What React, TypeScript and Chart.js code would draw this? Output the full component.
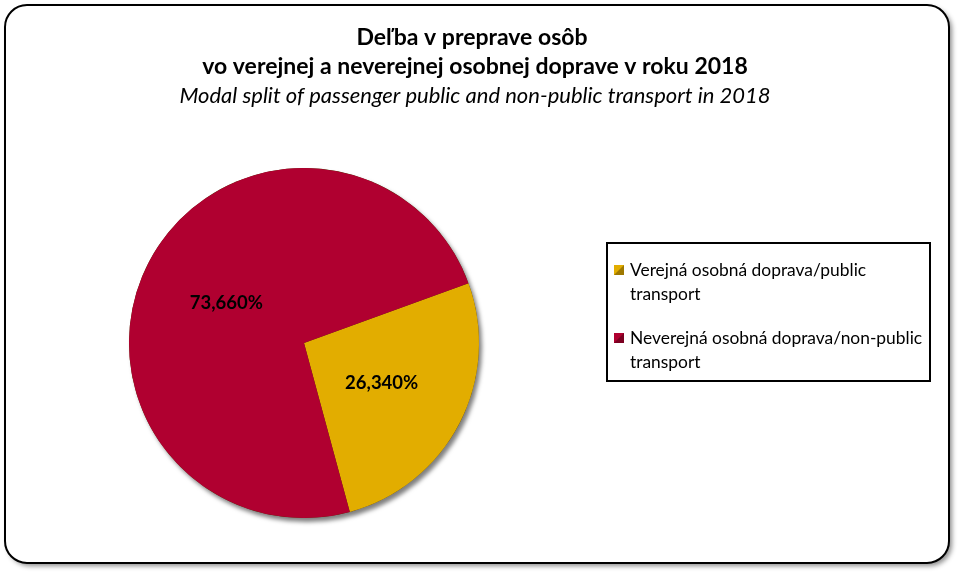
import React, { useEffect, useRef } from "react";
import { Chart, registerables } from "chart.js";

Chart.register(...registerables);

const categories = [
  "Verejná osobná doprava/public transport",
  "Neverejná osobná doprava/non-public transport",
];
const legendLines = [
  ["Verejná osobná doprava/public", "transport"],
  ["Neverejná osobná doprava/non-public", "transport"],
];
const shares = [26.34, 73.66];
const sliceColors = ["#E2AD00", "#B00030"];
const titleLines = [
  "Deľba v preprave osôb",
  "vo verejnej a neverejnej osobnej doprave v roku 2018",
];
const subtitle = "Modal split of passenger public and non-public transport in 2018";

const FONT = "Lato, 'Open Sans', sans-serif";

function fmt(v: number) {
  return v.toFixed(3).replace(".", ",") + "%";
}

function roundRect(ctx: CanvasRenderingContext2D, x: number, y: number, w: number, h: number, r: number) {
  ctx.beginPath();
  ctx.moveTo(x + r, y);
  ctx.lineTo(x + w - r, y);
  ctx.arcTo(x + w, y, x + w, y + r, r);
  ctx.lineTo(x + w, y + h - r);
  ctx.arcTo(x + w, y + h, x + w - r, y + h, r);
  ctx.lineTo(x + r, y + h);
  ctx.arcTo(x, y + h, x, y + h - r, r);
  ctx.lineTo(x, y + r);
  ctx.arcTo(x, y, x + r, y, r);
  ctx.closePath();
}

const decorPlugin = {
  id: "decor",
  beforeDraw(chart: any) {
    const ctx = chart.ctx as CanvasRenderingContext2D;
    ctx.save();
    ctx.fillStyle = "#ffffff";
    ctx.fillRect(0, 0, chart.width, chart.height);
    ctx.shadowColor = "rgba(0,0,0,0.45)";
    ctx.shadowBlur = 5;
    ctx.shadowOffsetX = 3;
    ctx.shadowOffsetY = 3;
    roundRect(ctx, 5, 5, 944, 558, 22);
    ctx.fillStyle = "#ffffff";
    ctx.fill();
    ctx.shadowColor = "transparent";
    ctx.lineWidth = 2;
    ctx.strokeStyle = "#000";
    ctx.stroke();

    // title
    ctx.fillStyle = "#000";
    ctx.textAlign = "center";
    ctx.textBaseline = "middle";
    ctx.font = `bold 23px ${FONT}`;
    ctx.fillText(titleLines[0], 472, 38);
    ctx.fillText(titleLines[1], 475, 67);
    ctx.font = `italic 22px ${FONT}`;
    ctx.fillText(subtitle, 475, 96);
    ctx.restore();
  },
  beforeDatasetsDraw(chart: any) {
    const meta = chart.getDatasetMeta(0);
    const arc = meta.data[0];
    if (!arc) return;
    const { x, y, outerRadius } = arc.getProps(["x", "y", "outerRadius"], true);
    const ctx = chart.ctx as CanvasRenderingContext2D;
    ctx.save();
    ctx.shadowColor = "rgba(0,0,0,0.5)";
    ctx.shadowBlur = 4;
    ctx.shadowOffsetX = 3;
    ctx.shadowOffsetY = 4;
    ctx.beginPath();
    ctx.arc(x, y, outerRadius, 0, Math.PI * 2);
    ctx.fillStyle = "#4a3600";
    ctx.fill();
    ctx.restore();
  },
  afterDatasetsDraw(chart: any) {
    const ctx = chart.ctx as CanvasRenderingContext2D;
    const meta = chart.getDatasetMeta(0);
    const values = chart.data.datasets[0].data as number[];
    ctx.save();
    ctx.fillStyle = "#000";
    ctx.font = `bold 18.5px ${FONT}`;
    ctx.textAlign = "center";
    ctx.textBaseline = "middle";
    meta.data.forEach((el: any, i: number) => {
      const p = el.getProps(["x", "y", "startAngle", "endAngle", "outerRadius"], true);
      const mid = (p.startAngle + p.endAngle) / 2;
      const r = p.outerRadius * 0.5;
      ctx.fillText(fmt(values[i]), p.x + Math.cos(mid) * r, p.y + Math.sin(mid) * r);
    });

    // legend
    const lx = 607, ly = 243, lw = 323, lh = 138;
    ctx.lineWidth = 2;
    ctx.strokeStyle = "#000";
    ctx.strokeRect(lx, ly, lw, lh);
    ctx.font = `17.4px ${FONT}`;
    ctx.textAlign = "left";
    const colors = chart.data.datasets[0].backgroundColor as string[];
    const rowY = [270, 338];
    legendLines.forEach((lines, i) => {
      const y0 = rowY[i];
      ctx.fillStyle = colors[i];
      ctx.fillRect(614, y0 - 5, 10, 10);
      ctx.fillStyle = "rgba(0,0,0,0.3)";
      ctx.beginPath();
      ctx.moveTo(614, y0 + 5);
      ctx.lineTo(624, y0 - 5);
      ctx.lineTo(624, y0 + 5);
      ctx.closePath();
      ctx.fill();
      ctx.fillStyle = "#000";
      lines.forEach((t, j) => ctx.fillText(t, 630, y0 + j * 24));
    });
    ctx.restore();
  },
};

export default function App() {
  const ref = useRef<HTMLCanvasElement>(null);
  useEffect(() => {
    if (!ref.current) return;
    const chart = new Chart(ref.current, {
      type: "pie",
      data: {
        labels: categories,
        datasets: [
          {
            data: shares,
            backgroundColor: sliceColors,
            borderWidth: 0,
          },
        ],
      },
      options: {
        responsive: false,
        animation: false,
        rotation: 70,
        layout: { padding: { left: 129, right: 483, top: 168, bottom: 58 } },
        plugins: {
          legend: { display: false },
          title: { display: false },
          tooltip: { enabled: false },
        },
      },
      plugins: [decorPlugin],
    });
    return () => chart.destroy();
  }, []);
  return (
    <div style={{ position: "fixed", left: 0, top: 0, width: 962, height: 576 }}>
      <canvas ref={ref} width={962} height={576} style={{ width: 962, height: 576 }} />
    </div>
  );
}
